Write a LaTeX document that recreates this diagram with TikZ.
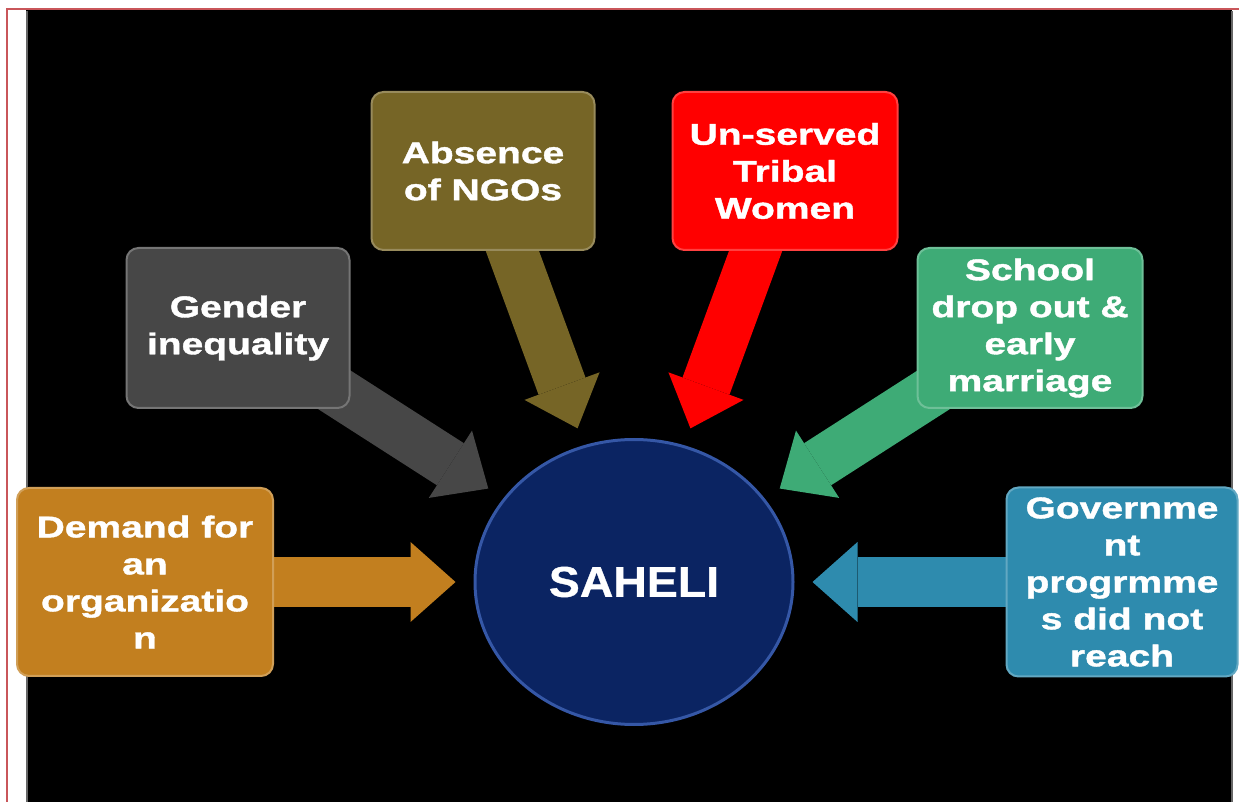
\documentclass[tikz,border=0pt]{standalone}
\usepackage{fontspec}
\usetikzlibrary{arrows.meta,shapes.geometric}
\newfontfamily\boxfont[FakeStretch=1.3,FakeBold=1.3]{Liberation Sans}
\newfontfamily\hubfont[FakeStretch=1.08,FakeBold=0.8]{Liberation Sans}

\definecolor{demandcol}{HTML}{C27F1F}
\definecolor{gendercol}{HTML}{474747}
\definecolor{ngocol}{HTML}{766526}
\definecolor{tribalcol}{HTML}{FF0000}
\definecolor{schoolcol}{HTML}{3EAB76}
\definecolor{govtcol}{HTML}{2E8BAE}
\definecolor{sahelicol}{HTML}{0B2462}
\definecolor{rimcol}{HTML}{3557A6}
\definecolor{framered}{HTML}{C9565A}

\pgfdeclarelayer{background}
\pgfsetlayers{background,main}

\tikzset{
	cause/.style={rectangle, rounded corners=6pt, fill=#1, draw=#1!75!white, line width=1pt,
		text=white, align=center, inner sep=0pt,
		font=\boxfont\bfseries\fontsize{15}{18.5}\selectfont},
	push/.style={draw=#1, line width=25pt, shorten >=9pt,
		-{Triangle[width=40pt,length=22.5pt,line width=0pt]}},
}

\begin{document}
\begin{tikzpicture}[x=0.5pt,y=-0.5pt]
		%%%%% START %%%%%
		\useasboundingbox (0,0) rectangle (1239,802);
		
		\begin{pgfonlayer}{background}
		\fill[white] (0,0) rectangle (1239,802);
		\draw[framered, line width=1pt] (6.5,802) -- (6.5,9.5) -- (1239,9.5);
		\fill[black] (26,10.5) rectangle (1231.5,802);
		\draw[black!60, line width=1pt] (27,11) -- (27,802);
		\draw[black!60, line width=1pt] (1232,11) -- (1232,802);
		\end{pgfonlayer}
		
		\node[ellipse, minimum width=159pt, minimum height=142.5pt, inner sep=0pt,
			fill=sahelicol, draw=rimcol, line width=1.5pt,
			text=white, font=\hubfont\bfseries\fontsize{21.5}{24}\selectfont] (saheli) at (634,582) {SAHELI};
		
		\node[cause=demandcol, minimum width=128pt, minimum height=94pt] (demand) at (145,582) {Demand for\\an\\organizatio\\n};
		\node[cause=gendercol, minimum width=111.5pt, minimum height=80pt] (gender) at (238,328) {Gender\\inequality};
		\node[cause=ngocol, minimum width=111.5pt, minimum height=79pt] (ngo) at (483,171) {Absence\\of NGOs};
		\node[cause=tribalcol, minimum width=112.5pt, minimum height=79pt] (tribal) at (785,171) {Un-served\\Tribal\\Women};
		\node[cause=schoolcol, minimum width=112.5pt, minimum height=80pt] (school) at (1030,328) {School\\drop out \&\\early\\marriage};
		\node[cause=govtcol, minimum width=115.5pt, minimum height=94.5pt] (govt) at (1122,582) {Governme\\nt\\progrmme\\s did not\\reach};
		
		\begin{pgfonlayer}{background}
		\draw[push=demandcol] (demand.center) -- (saheli);
		\draw[push=gendercol] (gender.center) -- (saheli);
		\draw[push=ngocol] (ngo.center) -- (saheli);
		\draw[push=tribalcol] (tribal.center) -- (saheli);
		\draw[push=schoolcol] (school.center) -- (saheli);
		\draw[push=govtcol] (govt.center) -- (saheli);
		\end{pgfonlayer}
		%%%%% END %%%%%
	\end{tikzpicture}
\end{document}
